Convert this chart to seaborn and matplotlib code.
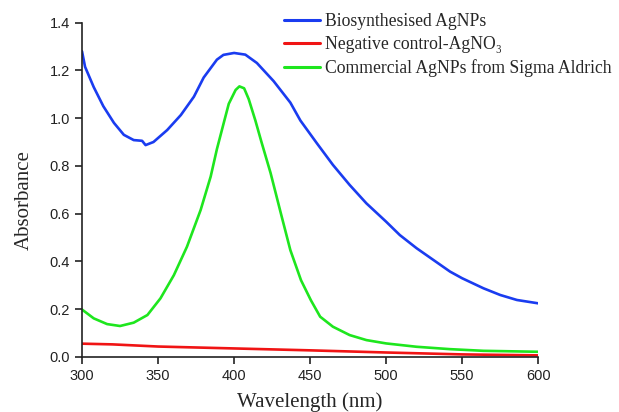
import numpy as np
import pandas as pd
import matplotlib
matplotlib.use("Agg")
import matplotlib.pyplot as plt
import seaborn as sns

# UV-Vis absorbance spectra
bio_nm = [300, 302, 307.7, 314, 321, 327.5, 334, 339.5, 341.8, 347, 356, 365, 373.6,
          380, 388.7, 393, 400, 407.4, 415, 426, 437, 443.6, 454.4, 465, 476, 487, 500,
          509, 520, 531, 542, 550, 564, 575, 586, 600]
bio_abs = [1.28, 1.215, 1.13, 1.05, 0.98, 0.93, 0.908, 0.905, 0.887, 0.90, 0.95, 1.013,
           1.09, 1.17, 1.245, 1.265, 1.273, 1.266, 1.231, 1.155, 1.065, 0.99, 0.895,
           0.804, 0.72, 0.643, 0.566, 0.51, 0.455, 0.406, 0.357, 0.329, 0.287, 0.259,
           0.238, 0.224]

neg_nm = [300, 320, 350, 400, 450, 500, 550, 600]
neg_abs = [0.055, 0.052, 0.043, 0.035, 0.027, 0.018, 0.010, 0.006]

com_nm = [300, 307.7, 316.5, 325, 334, 343, 351.6, 360.4, 369, 378, 384.6, 388.7, 393,
          396.5, 401, 403.5, 406.6, 409.6, 414, 418, 424, 430.8, 437, 444, 450.5, 456.6,
          465, 476, 487, 500, 520, 542, 564, 600]
com_abs = [0.198, 0.161, 0.137, 0.129, 0.143, 0.175, 0.245, 0.342, 0.461, 0.615, 0.755,
           0.87, 0.975, 1.06, 1.118, 1.133, 1.125, 1.08, 0.99, 0.90, 0.77, 0.60, 0.447,
           0.321, 0.237, 0.168, 0.126, 0.091, 0.07, 0.056, 0.042, 0.032, 0.025, 0.021]

labels = ["Biosynthesised AgNPs", "Negative control-AgNO\u2083",
          "Commercial AgNPs from Sigma Aldrich"]
colors = ["#1a3cf0", "#f01414", "#1ee61e"]

df = pd.concat([
    pd.DataFrame({"Wavelength": bio_nm, "Absorbance": bio_abs, "Sample": labels[0]}),
    pd.DataFrame({"Wavelength": neg_nm, "Absorbance": neg_abs, "Sample": labels[1]}),
    pd.DataFrame({"Wavelength": com_nm, "Absorbance": com_abs, "Sample": labels[2]}),
])

sns.set_style("ticks")
serif = ["Liberation Serif", "DejaVu Serif"]
sans = ["Liberation Sans", "DejaVu Sans"]
plt.rcParams["font.family"] = sans

fig = plt.figure(figsize=(6.19, 4.12), dpi=100)
ax = fig.add_axes([0.1325, 0.134, 0.737, 0.811])

sns.lineplot(data=df, x="Wavelength", y="Absorbance", hue="Sample",
             palette=dict(zip(labels, colors)), linewidth=1.9, ax=ax,
             estimator=None, sort=True, solid_joinstyle="round",
             solid_capstyle="round")

ax.set_xlim(300, 600)
ax.set_ylim(0, 1.4)
ax.set_xticks(np.arange(300, 601, 50))
ax.set_yticks(np.arange(0, 1.41, 0.2))
ax.set_yticklabels([f"{v:.1f}" for v in np.arange(0, 1.41, 0.2)])
ax.tick_params(axis="both", direction="out", length=5, width=1.2, labelsize=10.5,
               colors="#222222")
for s in ["top", "right"]:
    ax.spines[s].set_visible(False)
for s in ["left", "bottom"]:
    ax.spines[s].set_linewidth(1.2)
    ax.spines[s].set_color("#222222")

ax.set_xlabel("Wavelength (nm)", family=serif, fontsize=15, labelpad=7)
ax.set_ylabel("Absorbance", family=serif, fontsize=15)
ax.yaxis.set_label_coords(-0.105, 0.47)

leg = ax.legend(loc="upper left", bbox_to_anchor=(0.428, 1.05), frameon=False,
                prop={"family": serif, "size": 12.7}, handlelength=2.0,
                handletextpad=0.3, labelspacing=0.35, borderaxespad=0)
for h in leg.get_lines():
    h.set_linewidth(2.2)

fig.savefig("out.png", dpi=100)
